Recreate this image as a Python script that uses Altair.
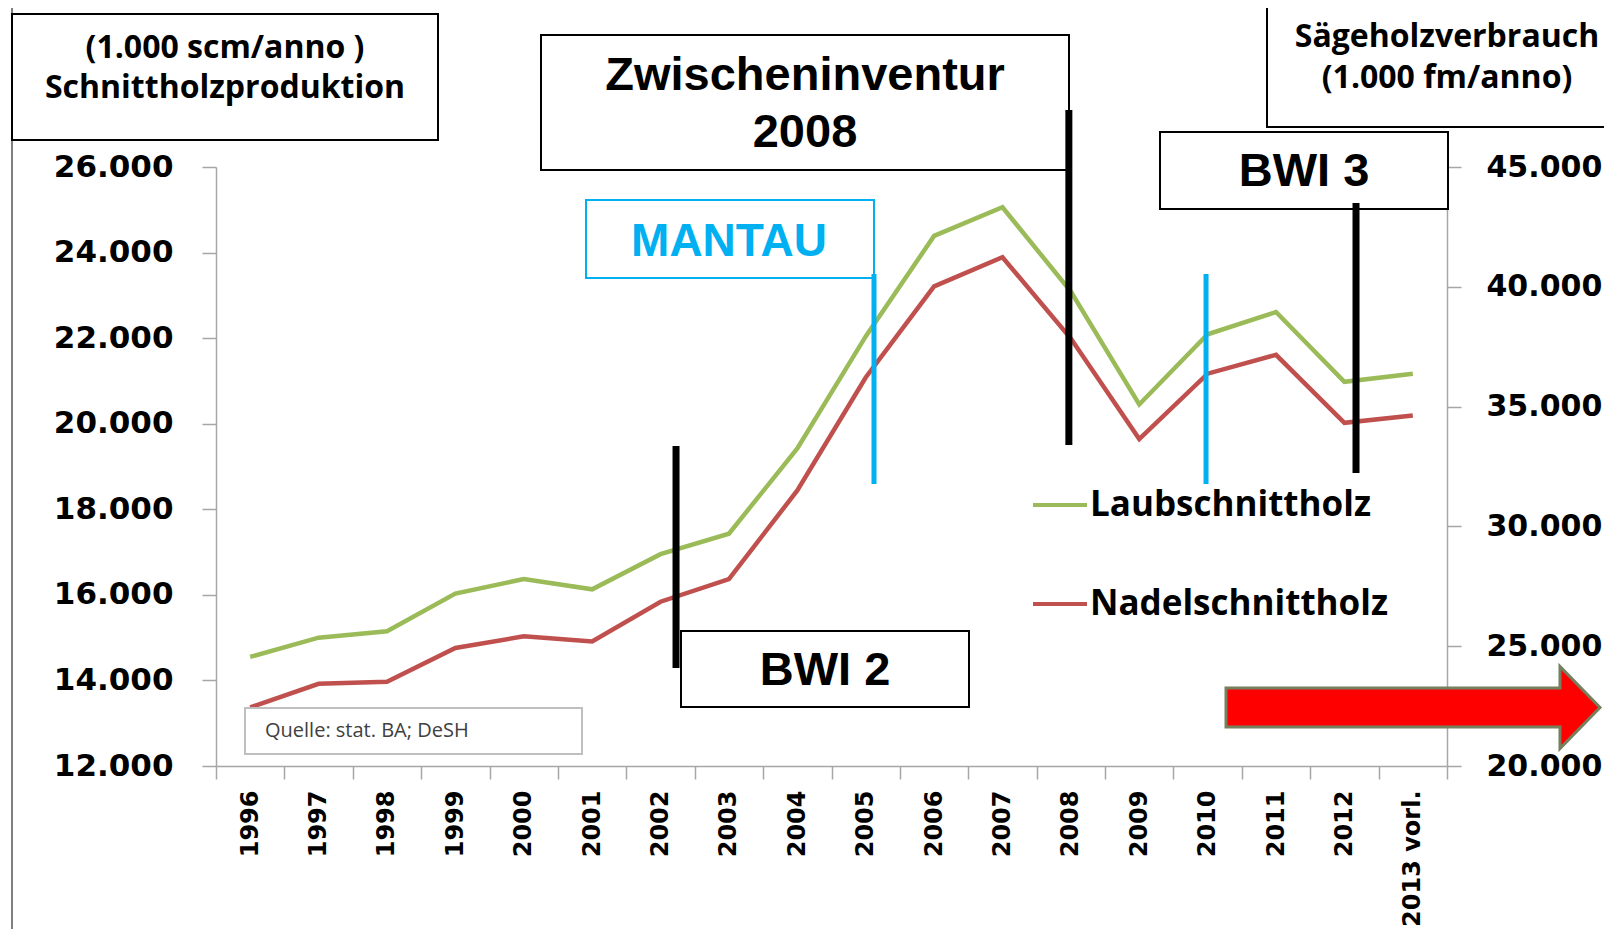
import altair as alt
import pandas as pd

# ---------------- data ----------------
years = ["1996", "1997", "1998", "1999", "2000", "2001", "2002", "2003", "2004",
         "2005", "2006", "2007", "2008", "2009", "2010", "2011", "2012", "2013 vorl."]
laub = [14550, 15000, 15150, 16030, 16370, 16130, 16950, 17430, 19420,
        22040, 24390, 25060, 23090, 20450, 22090, 22610, 20980, 21170]
nadel = [13370, 13920, 13970, 14760, 15030, 14910, 15840, 16370, 18440,
         21080, 23210, 23890, 21990, 19640, 21170, 21610, 20020, 20190]
series_names = ["Laubschnittholz", "Nadelschnittholz"]
series_colors = ["#9bbb59", "#c0504d"]
left_ticks = [12000, 14000, 16000, 18000, 20000, 22000, 24000, 26000]
right_ticks = [20000, 25000, 30000, 35000, 40000, 45000]
event_names = ["BWI 2", "Zwischeninventur", "BWI 3", "MANTAU 1", "MANTAU 2"]
event_years = ["2002", "2008", "2012", "2005", "2010"]

df = pd.DataFrame({
    "year": years * 2,
    "series": [series_names[0]] * len(years) + [series_names[1]] * len(years),
    "value": laub + nadel,
})
events = pd.DataFrame({"event": event_names, "year": event_years})
one = pd.DataFrame({"k": [0]})

german = "replace(format(datum.value, ','), ',', '.')"
axis_gray = "#a6a6a6"

x_scale = alt.Scale(type="band", domain=years, paddingInner=0, paddingOuter=0)
x_axis = alt.Axis(title=None, labelAngle=270, tickBand="extent", labelFont="DejaVu Sans",
                  labelFontWeight="bold", labelFontSize=24, labelColor="black",
                  tickSize=13, labelPadding=11, domainColor=axis_gray, tickColor=axis_gray,
                  domainWidth=1.5, tickWidth=1.5, labelLimit=300)


def xenc():
    return alt.X("year:N", scale=x_scale, axis=x_axis, bandPosition=0.5)


lines = alt.Chart(df).mark_line(strokeWidth=4.5).encode(
    x=xenc(),
    y=alt.Y("value:Q", scale=alt.Scale(domain=[12000, 26000], nice=False, zero=False),
            axis=alt.Axis(title=None, values=left_ticks, labelExpr=german, orient="left",
                          labelFont="DejaVu Sans", labelFontWeight="bold", labelFontSize=31,
                          labelColor="black", tickSize=14, labelPadding=29,
                          domainColor=axis_gray, tickColor=axis_gray, domainWidth=1.5,
                          tickWidth=1.5, grid=False)),
    color=alt.Color("series:N",
                    scale=alt.Scale(domain=series_names, range=series_colors),
                    legend=alt.Legend(orient="none", legendX=815, legendY=309, title=None,
                                      symbolType="stroke", symbolSize=2916,
                                      symbolStrokeWidth=4, labelFont="Open Sans",
                                      labelFontSize=35, labelFontWeight="bold",
                                      labelColor="black", labelOffset=1, rowPadding=52,
                                      padding=0, labelLimit=500)),
)

right_axis = alt.Chart(df).mark_line(opacity=0).encode(
    x=xenc(),
    y=alt.Y("value:Q", scale=alt.Scale(domain=[20000, 45000], nice=False, zero=False),
            axis=alt.Axis(title=None, values=right_ticks, labelExpr=german, orient="right",
                          labelFont="DejaVu Sans", labelFontWeight="bold", labelFontSize=30,
                          labelColor="black", tickSize=14, labelPadding=25,
                          domainColor=axis_gray, tickColor=axis_gray, domainWidth=1.5,
                          tickWidth=1.5, grid=False)),
    detail="series:N",
)

data_layer = alt.layer(lines, right_axis).resolve_scale(y="independent")


def box(x, x2, y, y2, stroke="black", sw=2):
    return alt.Chart(one).mark_rect(fill="white", stroke=stroke, strokeWidth=sw).encode(
        x=alt.value(x), x2=alt.value(x2), y=alt.value(y), y2=alt.value(y2))


def label(text, x, y, font, size, weight="bold", color="black", lh=None, align="center"):
    kw = dict(text=text, font=font, fontSize=size, fontWeight=weight, color=color,
              align=align, baseline="middle")
    if lh is not None:
        kw["lineHeight"] = lh
    return alt.Chart(one).mark_text(**kw).encode(x=alt.value(x), y=alt.value(y))


def vline(name, offset, y, y2, color, sw):
    return alt.Chart(events).transform_filter(alt.datum.event == name).mark_rule(
        color=color, strokeWidth=sw, xOffset=offset).encode(
        x=xenc(), y=alt.value(y), y2=alt.value(y2))


frame_top = alt.Chart(one).mark_rule(color="#7f7f7f", strokeWidth=2).encode(
    x=alt.value(-204), x2=alt.value(1400), y=alt.value(-163))
frame_left = alt.Chart(one).mark_rule(color="#7f7f7f", strokeWidth=2).encode(
    x=alt.value(-204), y=alt.value(-163), y2=alt.value(780))

annotations = [
    frame_top, frame_left,
    box(-204, 222, -153, -27),
    label(["(1.000 scm/anno )", "Schnittholzproduktion"], 9, -119, "Open Sans", 32, lh=40),
    box(325, 853, -132, 3),
    label(["Zwischeninventur", "2008"], 589, -91, "Liberation Sans", 47, lh=57),
    box(1051, 1430, -162, -40),
    label(["Sägeholzverbrauch", "(1.000 fm/anno)"], 1231, -130, "Open Sans", 32, lh=41),
    box(944, 1232, -35, 42),
    label("BWI 3", 1088, 5, "Liberation Sans", 47),
    box(370, 658, 33, 111, stroke="#00b0f0", sw=2),
    label("MANTAU", 513, 74.5, "Liberation Sans", 46, color="#00b0f0"),
    box(465, 753, 464, 540),
    label("BWI 2", 609, 504, "Liberation Sans", 47),
    box(29, 366, 541, 587, stroke="#bfbfbf", sw=2),
    label("Quelle: stat. BA; DeSH", 49, 564, "Open Sans", 20, weight="normal",
          color="#404040", align="left"),
    vline("BWI 2", 15.5, 279, 501, "black", 7),
    vline("Zwischeninventur", -2, -57, 278, "black", 7),
    vline("BWI 3", 11.6, 36, 306, "black", 7),
    vline("MANTAU 1", 8.3, 107, 317, "#00b0f0", 5),
    vline("MANTAU 2", -1.6, 107, 317, "#00b0f0", 5),
]

arrow_path = ("M-1,-0.104 L0.786,-0.104 L0.786,-0.219 L1,0 L0.786,0.219 "
              "L0.786,0.104 L-1,0.104 Z")
arrow = alt.Chart(one).mark_point(shape=arrow_path, size=139876, filled=True,
                                  fill="#ff0000", stroke="#76805f", strokeWidth=3,
                                  opacity=1).encode(x=alt.value(1197), y=alt.value(540.5))

chart = alt.layer(data_layer, *annotations, arrow).properties(
    width=1231, height=599,
    autosize=alt.AutoSizeParams(type="none"),
    padding={"left": 208, "top": 159, "right": 157, "bottom": 163},
    background="white",
).configure_view(stroke="transparent")

chart.save("out.html", embed_options={"renderer": "svg", "actions": False})
